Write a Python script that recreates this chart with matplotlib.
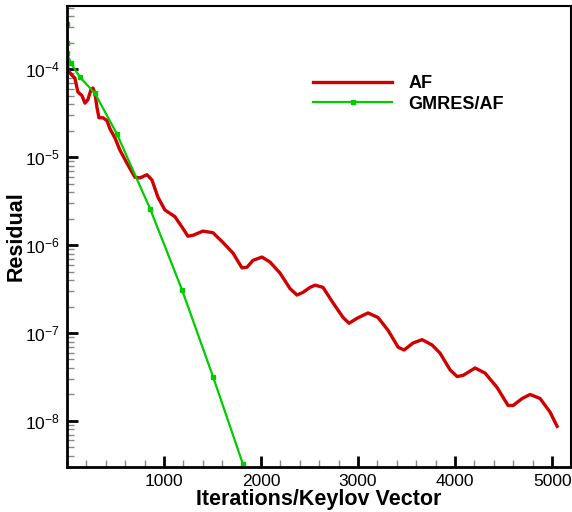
import matplotlib.pyplot as plt
from matplotlib.ticker import LogLocator, MultipleLocator, NullFormatter, FixedLocator

plt.rcParams["font.family"] = ["Liberation Sans", "DejaVu Sans"]
plt.rcParams["mathtext.default"] = "regular"

# AF residual history
af_iter = [0, 0, 10, 41, 82, 113, 155, 186, 216, 247, 268, 289, 309, 330, 371, 412,
           443, 495, 546, 619, 701, 753, 825, 876, 938, 1010, 1113, 1186, 1247, 1299,
           1402, 1505, 1608, 1711, 1804, 1856, 1918, 2010, 2093, 2196, 2299, 2371,
           2433, 2505, 2557, 2639, 2742, 2846, 2907, 2990, 3103, 3206, 3310, 3413,
           3474, 3567, 3660, 3763, 3845, 3949, 4021, 4083, 4206, 4309, 4433, 4546,
           4598, 4691, 4773, 4876, 4979, 5051]
af_res = [2.1e-4, 1.44e-4, 9.8e-5, 8.8e-5, 7.9e-5, 5.5e-5, 5.0e-5, 4.1e-5, 4.5e-5,
          5.8e-5, 6.1e-5, 5.3e-5, 3.7e-5, 2.8e-5, 2.8e-5, 2.6e-5, 2.1e-5, 1.65e-5,
          1.2e-5, 8.5e-6, 5.9e-6, 5.8e-6, 6.3e-6, 5.5e-6, 3.5e-6, 2.5e-6, 2.1e-6,
          1.6e-6, 1.26e-6, 1.29e-6, 1.44e-6, 1.38e-6, 1.07e-6, 8.1e-7, 5.5e-7,
          5.6e-7, 6.7e-7, 7.3e-7, 6.4e-7, 4.8e-7, 3.2e-7, 2.7e-7, 2.9e-7, 3.3e-7,
          3.5e-7, 3.3e-7, 2.2e-7, 1.5e-7, 1.29e-7, 1.47e-7, 1.69e-7, 1.5e-7,
          1.07e-7, 6.9e-8, 6.4e-8, 7.7e-8, 8.4e-8, 7.3e-8, 5.9e-8, 3.8e-8, 3.2e-8,
          3.3e-8, 4.0e-8, 3.5e-8, 2.4e-8, 1.5e-8, 1.5e-8, 1.8e-8, 2.0e-8, 1.8e-8,
          1.26e-8, 8.7e-9]

# GMRES/AF residual history
gm_iter = [0, 0, 0, 41, 134, 289, 515, 856, 1186, 1505, 1815]
gm_res = [3.3e-4, 2.0e-4, 1.52e-4, 1.17e-4, 8.1e-5, 5.3e-5, 1.83e-5, 2.6e-6,
          3.1e-7, 3.2e-8, 3.2e-9]

fig = plt.figure(figsize=(5.72, 5.12), dpi=100)
ax = fig.add_axes([0.117, 0.088, 0.881, 0.9])

ax.plot(af_iter, af_res, color="#d00000", linewidth=2.4, label="AF",
        solid_joinstyle="round")
ax.plot(gm_iter, gm_res, color="#00cc00", linewidth=1.6, marker="s",
        markersize=3.5, label="GMRES/AF")

ax.set_yscale("log")
ax.set_xlim(0, 5193)
ax.set_ylim(3.0e-9, 5.2e-4)

ax.xaxis.set_major_locator(FixedLocator([1000, 2000, 3000, 4000, 5000]))
ax.xaxis.set_minor_locator(MultipleLocator(200))
ax.yaxis.set_major_locator(LogLocator(base=10, numticks=20))
ax.yaxis.set_minor_locator(LogLocator(base=10, subs=range(2, 10), numticks=20))
ax.yaxis.set_minor_formatter(NullFormatter())

ax.tick_params(which="major", direction="in", length=8, width=2, labelsize=12.5,
               top=False, right=False, pad=5)
ax.tick_params(which="minor", direction="in", length=5, width=1, color="#888888",
               top=False, right=False)

for side in ["left", "bottom"]:
    ax.spines[side].set_linewidth(2)
for side in ["top", "right"]:
    ax.spines[side].set_linewidth(1.5)

ax.set_xlabel("Iterations/Keylov Vector", fontsize=15.5, fontweight="bold", labelpad=0)
ax.set_ylabel("Residual", fontsize=15.5, fontweight="bold", labelpad=-1)

ax.legend(loc="upper left", bbox_to_anchor=(0.47, 0.87), frameon=False,
          handlelength=4.4, numpoints=1, prop={"weight": "bold", "size": 13},
          labelspacing=0.2, handletextpad=0.9, borderpad=0)

fig.savefig("out.png", dpi=100)
